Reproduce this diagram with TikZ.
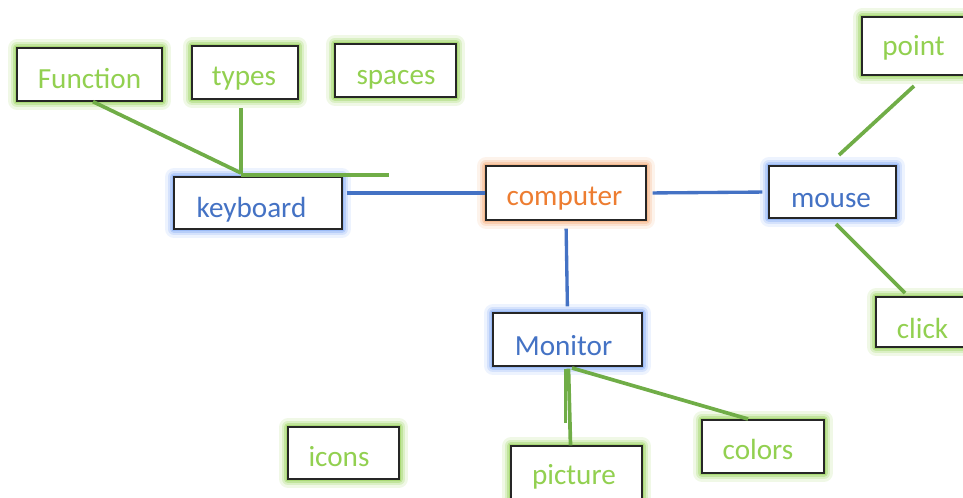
\documentclass[tikz,border=0pt]{standalone}
\usepackage{fontspec}
\setmainfont{Carlito}
\definecolor{LineGreen}{HTML}{70AD47}
\definecolor{TextGreen}{HTML}{92D050}
\definecolor{OfficeBlue}{HTML}{4472C4}
\definecolor{GlowBlue}{HTML}{7FA8F5}
\definecolor{OfficeOrange}{HTML}{ED7D31}
\definecolor{GlowOrange}{HTML}{F4A873}

\begin{document}
\begin{tikzpicture}
[
x=0.02cm, y=-0.02cm,
Glow/.style={preaction={draw=#1, draw opacity=0.14, line width=10pt, line join=round},
             preaction={draw=#1, draw opacity=0.22, line width=7pt, line join=round},
             preaction={draw=#1, draw opacity=0.35, line width=4.5pt, line join=round},
             preaction={draw=#1, draw opacity=0.5, line width=2.4pt}},
Box/.style={rectangle, draw=black!85, fill=white, line width=0.75pt, inner sep=0pt},
GreenBox/.style={Box, Glow=TextGreen},
BlueBox/.style={Box, Glow=GlowBlue},
OrangeBox/.style={Box, Glow=GlowOrange},
Label/.style={anchor=base, inner sep=0pt, font=\fontsize{16.6}{19}\selectfont},
GreenText/.style={Label, text=TextGreen},
BlueText/.style={Label, text=OfficeBlue},
OrangeText/.style={Label, text=OfficeOrange},
BlueLine/.style={draw=OfficeBlue, line width=1.9pt},
GreenLine/.style={draw=LineGreen, line width=2.1pt},
]

\useasboundingbox (0,0) rectangle (963,497);
\clip (0,0) rectangle (963,497);

\node[GreenBox, minimum width=2.90cm, minimum height=1.06cm] (function) at ( 89.5, 74.5) {};
\node[GreenBox, minimum width=2.12cm, minimum height=1.06cm] (types)    at (245.0, 72.5) {};
\node[GreenBox, minimum width=2.42cm, minimum height=1.06cm] (spaces)   at (395.5, 70.5) {};
\node[BlueBox,  minimum width=3.36cm, minimum height=1.04cm] (keyboard) at (258.0,203.0) {};
\node[OrangeBox,minimum width=3.20cm, minimum height=1.08cm] (computer) at (566.0,193.0) {};
\node[BlueBox,  minimum width=2.54cm, minimum height=1.04cm] (mouse)    at (832.5,192.0) {};
\node[BlueBox,  minimum width=2.98cm, minimum height=1.06cm] (monitor)  at (567.5,339.5) {};
\node[GreenBox, minimum width=2.12cm, minimum height=1.16cm] (point)    at (915.0, 46.0) {};
\node[GreenBox, minimum width=1.92cm, minimum height=1.00cm] (click)    at (924.0,322.0) {};
\node[GreenBox, minimum width=2.22cm, minimum height=1.04cm] (icons)    at (343.5,453.0) {};
\node[GreenBox, minimum width=2.62cm, minimum height=1.12cm] (picture)  at (576.5,474.0) {};
\node[GreenBox, minimum width=2.44cm, minimum height=1.06cm] (colors)   at (763.0,446.5) {};

\node[GreenText]  at ( 89.5, 88) {Function};
\node[GreenText]  at (244.0, 85) {types};
\node[GreenText]  at (396.0, 84) {spaces};
\node[BlueText]   at (251.5,217) {keyboard};
\node[OrangeText] at (564.5,205) {computer};
\node[BlueText]   at (831.0,207) {mouse};
\node[BlueText]   at (563.5,355) {Monitor};
\node[GreenText]  at (913.5, 55) {point};
\node[GreenText]  at (922.5,338) {click};
\node[GreenText]  at (339.0,466) {icons};
\node[GreenText]  at (574.0,484) {picture};
\node[GreenText]  at (758.0,459) {colors};

\coordinate (kbhub)    at (241,173);
\coordinate (kbend)    at (389,175);
\coordinate (typesfoot) at (241,108);
\coordinate (mousetop) at (839,155);
\coordinate (pointfoot) at (914,86);
\coordinate (mousefoot) at (836,224);
\coordinate (clicktop) at (905,293);
\coordinate (monfoot)  at (572,368);
\coordinate (colorstop) at (748,419);

\draw[BlueLine, shorten <=0.08cm] (keyboard.east |- computer.west) -- (computer.west);
\draw[BlueLine, shorten <=0.12cm, shorten >=0.12cm] (computer.east) -- (mouse.west);
\draw[BlueLine, shorten <=0.16cm, shorten >=0.12cm] (computer.south) -- (monitor.north);

\draw[GreenLine] ([xshift=0.07cm]function.south) -- (kbhub);
\draw[GreenLine] (typesfoot) -- (kbhub);
\draw[GreenLine] (kbhub |- kbend) -- (kbend);
\draw[GreenLine] (mousetop) -- (pointfoot);
\draw[GreenLine] (mousefoot) -- (clicktop);
\draw[GreenLine] (monfoot) -- (colorstop);
\draw[GreenLine] ([xshift=0.02cm,yshift=-0.04cm]monitor.south) -- ([xshift=-0.12cm]picture.north);
\draw[GreenLine] ([xshift=-0.04cm,yshift=-0.04cm]monitor.south) -- ++(0,54);

\end{tikzpicture}
\end{document}
